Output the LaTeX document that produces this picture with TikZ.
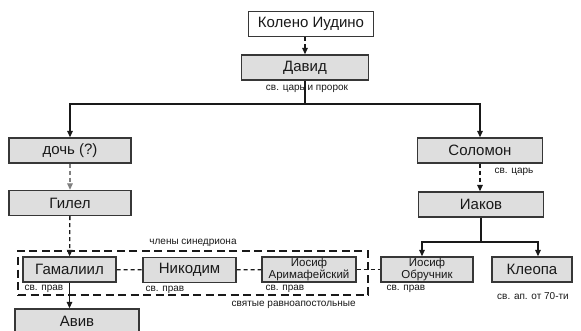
\documentclass[tikz,border=0pt]{standalone}
\usepackage{fontspec}
\setmainfont{Liberation Sans}
\usetikzlibrary{arrows.meta}
\definecolor{boxgray}{RGB}{222,222,222}
\definecolor{edgegray}{RGB}{55,55,55}
\definecolor{inkgray}{RGB}{25,25,25}

\begin{document}
\begin{tikzpicture}[x=1pt,y=-1pt,
	person/.style={draw=edgegray,line width=1.3pt,fill=boxgray,minimum height=25pt,
		text=inkgray,font=\fontsize{15}{17}\selectfont},
	twoline/.style={person,align=center,font=\fontsize{11.5}{11.5}\selectfont},
	note/.style={text=inkgray,font=\fontsize{10}{11}\selectfont},
	tip/.style={-{Triangle[length=6.5pt,width=5.5pt]}},
	link/.style={dash pattern=on 4pt off 3pt},
	council/.style={draw=inkgray,line width=1.7pt,dash pattern=on 8pt off 4.5pt}]
	\tikzstyle{every node}+=[inner sep=0pt]
	\useasboundingbox[fill=white] (0,0) rectangle (581,331);
	\node[person,fill=white,minimum width=125pt] (kol) at (311,24) {Колено Иудино};
	\node[person,minimum width=127pt] (dav) at (305,67.5) {Давид};
	\node[note] (davnote) at (307,89) {св. царь и пророк};
	\coordinate (fork) at (305,104);
	\node[person,minimum width=122pt] (doch) at (70,150.5) {дочь (?)};
	\node[person,minimum width=122pt] (gil) at (70,203) {Гилел};
	\node[person,minimum width=125pt] (sol) at (480,150.5) {Соломон};
	\node[note] (solnote) at (514,172) {св. царь};
	\node[person,minimum width=125pt] (iak) at (481,204.5) {Иаков};
	\coordinate (fork2) at (481,242);
	\node[council,minimum width=350pt,minimum height=44pt] (synod) at (193,273) {};
	\node[person,minimum width=93pt] (gam) at (69.5,269.5) {Гамалиил};
	\node[person,minimum width=93pt] (nik) at (189.5,270) {Никодим};
	\node[twoline,minimum width=94pt] (ari) at (309,269.5) {Иосиф\\Аримафейский};
	\node[twoline,minimum width=92pt] (obr) at (427,269.5) {Иосиф\\Обручник};
	\node[person,minimum width=80pt] (kle) at (532,269.5) {Клеопа};
	\node[person,minimum width=124pt] (aviv) at (77,321.5) {Авив};
	\node[note] (synodnote) at (193,243) {члены синедриона};
	\node[note,anchor=north east] (saints) at ([shift={(-13,5)}]synod.south east) {святые равноапостольные};
	\node[note,anchor=north west] (gamnote) at ([shift={(2,2)}]gam.south west) {св. прав};
	\node[note,anchor=north west] (niknote) at ([shift={(3,3)}]nik.south west) {св. прав};
	\node[note,anchor=north west] (arinote) at ([shift={(4,2)}]ari.south west) {св. прав};
	\node[note,anchor=north west] (obrnote) at ([shift={(6,2)}]obr.south west) {св. прав};
	\node[note,anchor=north] (klenote) at ([shift={(1,10)}]kle.south) {св. ап. от 70-ти};
	\draw[inkgray,line width=1.3pt,link,tip] (kol.south -| dav.north) -- (dav.north);
	\draw[inkgray,line width=1.3pt] (dav.south) -- (fork);
	\draw[inkgray,line width=1.3pt,tip] (fork) -| (doch.north);
	\draw[inkgray,line width=1.3pt,tip] (fork) -| (sol.north);
	\draw[gray,line width=1.3pt,link,tip] (doch) -- (gil);
	\draw[inkgray,line width=1.3pt,link,tip] (gil) -- (gam);
	\draw[inkgray,line width=1.3pt,tip] (gam.south) -- (gam.south |- aviv.north);
	\draw[inkgray,line width=1.3pt,link,tip] (sol.south) -- (sol.south |- iak.north);
	\draw[inkgray,line width=1.3pt] (iak.south) -- (fork2);
	\draw[inkgray,line width=1.3pt,tip] (fork2) -| ([xshift=-5pt]obr.north);
	\draw[inkgray,line width=1.3pt,tip] (fork2) -| ([xshift=6pt]kle.north);
	\draw[inkgray,line width=1.3pt,link] (gam) -- (nik);
	\draw[inkgray,line width=1.3pt,link] (nik) -- (ari);
	\draw[inkgray,line width=1.3pt,link] (ari) -- (obr);
\end{tikzpicture}
\end{document}
